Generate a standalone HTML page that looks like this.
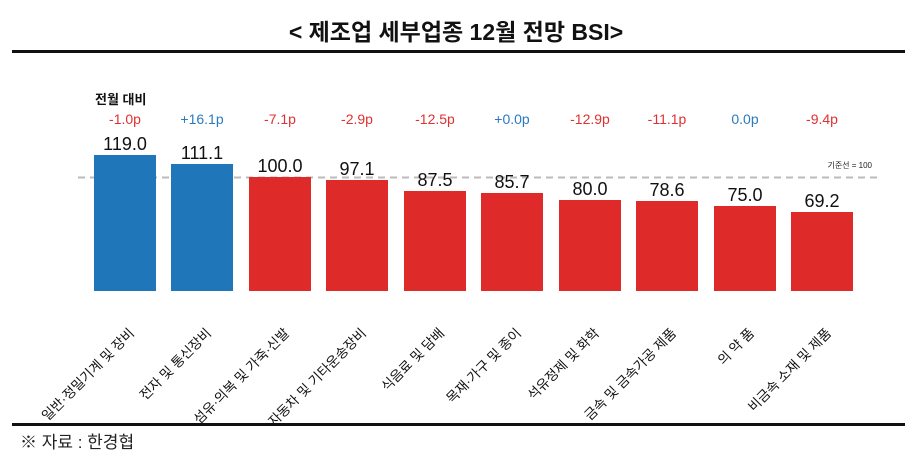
<!DOCTYPE html>
<html><head><meta charset="utf-8"><style>
body{margin:0;background:#fff;}
svg{display:block;}
text{font-family:"Liberation Sans","Noto Sans CJK KR",sans-serif;}
</style></head><body>
<svg width="912" height="461" viewBox="0 0 912 461">
<text x="456" y="40" text-anchor="middle" font-size="23" font-weight="bold" fill="#111">&lt; 제조업 세부업종 12월 전망 BSI&gt;</text>
<rect x="12" y="50" width="893" height="3" fill="#111"/>
<line x1="78" y1="177.5" x2="882" y2="177.5" stroke="#bbb" stroke-width="2" stroke-dasharray="7,5"/>
<text x="872" y="168" text-anchor="end" font-size="8" fill="#222">기준선 = 100</text>
<text x="95" y="104" font-size="13" font-weight="bold" fill="#111">전월 대비</text>
<g font-size="14" text-anchor="middle">
<text x="125" y="124" fill="#e03030">-1.0p</text>
<text x="202" y="124" fill="#2a7ac0">+16.1p</text>
<text x="280" y="124" fill="#e03030">-7.1p</text>
<text x="357" y="124" fill="#e03030">-2.9p</text>
<text x="435" y="124" fill="#e03030">-12.5p</text>
<text x="512" y="124" fill="#2a7ac0">+0.0p</text>
<text x="590" y="124" fill="#e03030">-12.9p</text>
<text x="667" y="124" fill="#e03030">-11.1p</text>
<text x="745" y="124" fill="#2a7ac0">0.0p</text>
<text x="822" y="124" fill="#e03030">-9.4p</text>
</g>
<g>
<rect x="94" y="155" width="62" height="136" fill="#1f77b9"/>
<rect x="171" y="164" width="62" height="127" fill="#1f77b9"/>
<rect x="249" y="177" width="62" height="114" fill="#df2a2a"/>
<rect x="326" y="180" width="62" height="111" fill="#df2a2a"/>
<rect x="404" y="191" width="62" height="100" fill="#df2a2a"/>
<rect x="481" y="193" width="62" height="98" fill="#df2a2a"/>
<rect x="559" y="200" width="62" height="91" fill="#df2a2a"/>
<rect x="636" y="201" width="62" height="90" fill="#df2a2a"/>
<rect x="714" y="206" width="62" height="85" fill="#df2a2a"/>
<rect x="791" y="212" width="62" height="79" fill="#df2a2a"/>
</g>
<g font-size="18" text-anchor="middle" fill="#111">
<text x="125" y="150">119.0</text>
<text x="202" y="159">111.1</text>
<text x="280" y="172">100.0</text>
<text x="357" y="175">97.1</text>
<text x="435" y="186">87.5</text>
<text x="512" y="188">85.7</text>
<text x="590" y="195">80.0</text>
<text x="667" y="196">78.6</text>
<text x="745" y="201">75.0</text>
<text x="822" y="207">69.2</text>
</g>
<g font-size="13.5" text-anchor="end" fill="#111">
<text transform="translate(135,334) rotate(-45)">일반·정밀기계 및 장비</text>
<text transform="translate(212,334) rotate(-45)">전자 및 통신장비</text>
<text transform="translate(290,334) rotate(-45)">섬유·의복 및 가죽·신발</text>
<text transform="translate(367,334) rotate(-45)">자동차 및 기타운송장비</text>
<text transform="translate(445,334) rotate(-45)">식음료 및 담배</text>
<text transform="translate(522,334) rotate(-45)">목재·가구 및 종이</text>
<text transform="translate(600,334) rotate(-45)">석유정제 및 화학</text>
<text transform="translate(677,334) rotate(-45)">금속 및 금속가공 제품</text>
<text transform="translate(755,334) rotate(-45)">의 약 품</text>
<text transform="translate(832,334) rotate(-45)">비금속 소재 및 제품</text>
</g>
<rect x="12" y="423" width="893" height="3" fill="#111"/>
<text x="20" y="448" font-size="17" fill="#222" font-family="'Liberation Serif','Noto Serif CJK SC',serif">※ 자료 : 한경협</text>
</svg>
</body></html>
